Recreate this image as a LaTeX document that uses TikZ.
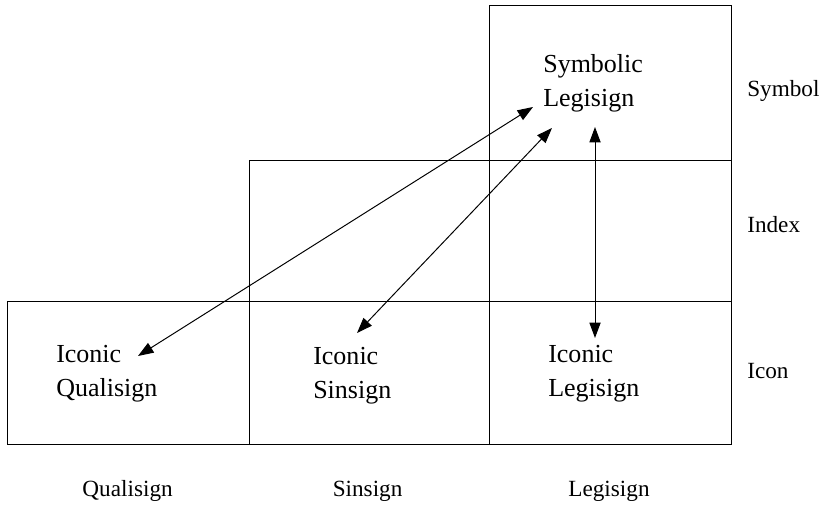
\documentclass[tikz,border=0pt]{standalone}
\usepackage{fontspec}
\setmainfont{Liberation Serif}
\usepackage{tikz}
\usetikzlibrary{arrows.meta, positioning}
\definecolor{mydark}{RGB}{0,0,0}
\tikzset{
  cellline/.style={line width=0.7pt, color=mydark},
  signtext/.style={anchor=north west, inner sep=0pt, align=left,
    font=\fontsize{18.5}{24.5}\selectfont},
  axislabel/.style={inner sep=0pt, font=\fontsize{16.5}{20}\selectfont},
  linkarrow/.style={{Triangle[length=11pt,width=8pt]}-{Triangle[length=11pt,width=8pt]},
    line width=0.7pt, color=mydark}
}
\begin{document}
\begin{tikzpicture}
  \useasboundingbox (0,0) rectangle (20.475,12.65);

  % Draw cells
  \draw[cellline] (0.175,1.55) rectangle (18.275,5.125);   % icon row
  \draw[cellline] (6.225,5.125) rectangle (18.275,8.65);   % index row
  \draw[cellline] (12.225,8.65) rectangle (18.275,12.5);   % symbol row
  \draw[cellline] (6.225,1.55) -- (6.225,5.125);
  \draw[cellline] (12.225,1.55) -- (12.225,8.65);

  % Sign classes in the cells
  \node[signtext] (iconqual) at (1.40, 4.025) {Iconic\\Qualisign};
  \node[signtext] (iconsin)  at (7.825, 3.975) {Iconic\\Sinsign};
  \node[signtext] (iconleg)  at (13.70, 4.025) {Iconic\\Legisign};
  \node[signtext] (symbleg)  at (13.575, 11.30) {Symbolic\\Legisign};

  % Row labels
  \node[axislabel, anchor=base west] (symbol) at (18.675, 10.225) {Symbol};
  \node[axislabel, anchor=base west] (index)  at (18.675, 6.825) {Index};
  \node[axislabel, anchor=base west] (icon)   at (18.675, 3.175) {Icon};

  % Column labels
  \node[axislabel, anchor=base] (qualisign) at (3.19, 0.225) {Qualisign};
  \node[axislabel, anchor=base] (sinsign)   at (9.19, 0.225) {Sinsign};
  \node[axislabel, anchor=base] (legisign)  at (15.225, 0.225) {Legisign};

  % Arrow ends
  \coordinate (sl1) at (13.325, 9.975);
  \coordinate (sl2) at (13.80, 9.45);
  \coordinate (sl3) at (14.875, 9.475);
  \coordinate (iq)  at (3.45, 3.75);
  \coordinate (is)  at (8.925, 4.325);
  \coordinate (il)  at (14.875, 4.20);

  \draw[linkarrow] (sl1) -- (iq);
  \draw[linkarrow] (sl2) -- (is);
  \draw[linkarrow] (sl3) -- (il);
\end{tikzpicture}
\end{document}
